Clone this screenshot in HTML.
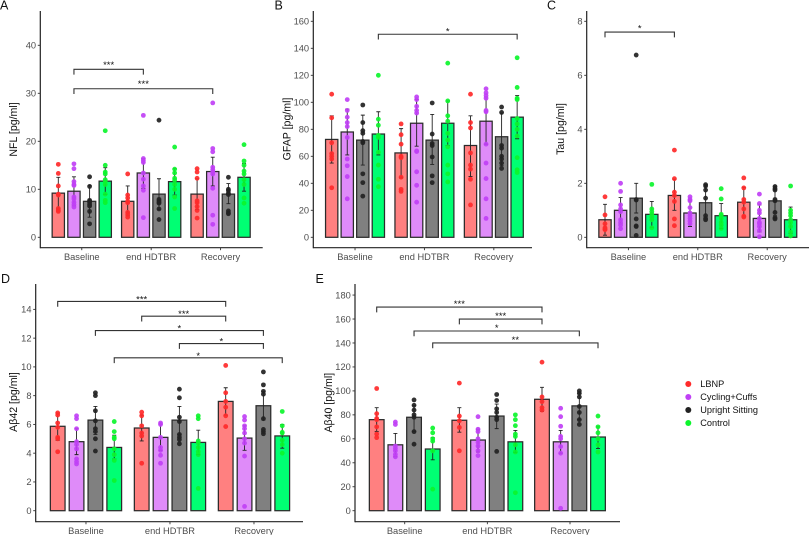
<!DOCTYPE html>
<html lang="en">
<head>
<meta charset="utf-8">
<title>Biomarker bar charts</title>
<style>
html,body{margin:0;padding:0;background:#fff;width:809px;height:535px;overflow:hidden}
svg{display:block;font-family:"Liberation Sans",Arial,sans-serif;filter:blur(0.35px)}
</style>
</head>
<body>
<svg id="figure" width="809" height="535" viewBox="0 0 809 535" xmlns="http://www.w3.org/2000/svg"></svg>
<script>
const groupLabels = ['Baseline', 'end HDTBR', 'Recovery'];
const seriesNames = ['LBNP', 'Cycling+Cuffs', 'Upright Sitting', 'Control'];
const barColors = ['#ff8080', '#df8bf9', '#808080', '#00ff73'];
const pointColors = ['#ff2a2a', '#c040f5', '#222222', '#0cf52c'];

const nflTicks = [0, 10, 20, 30, 40];
const nflMeans = [9.2, 9.6, 7.5, 11.7, 7.5, 13.4, 9, 11.6, 9, 13.7, 9, 12.5];
const nflLow = [5.9, 6.6, 4.2, 8.9, 4.5, 10.2, 5.8, 8.8, 5.8, 10.7, 7, 9.6];
const nflHigh = [12.5, 12.6, 10.8, 14.5, 10.7, 16.4, 12.2, 14.3, 12.2, 16.7, 11.2, 15.4];
const nflPoints = [
  [15.2, 13.3, 10.7, 9, 8.8, 6, 5.6, 5.4],
  [15.3, 14.3, 11.6, 11, 10.8, 8.4, 8, 7.3, 6.8, 6.3],
  [12.6, 10.6, 7.7, 7.5, 7.2, 6.8, 6.5, 5.4, 2.8],
  [22.2, 15, 13.6, 13.2, 12, 11.6, 11, 9, 7.7, 7.2],
  [13.2, 8.8, 8.2, 7.5, 7.2, 5.2, 4.8, 4.2],
  [25.4, 16.4, 16, 15.6, 13.4, 12.1, 10.7, 9.8, 4.1],
  [24.4, 7.9, 7.6, 7.3, 7.1, 5.9, 3.7],
  [18.8, 14.2, 13.4, 12.3, 11.9, 11, 10, 8.4, 6],
  [14.3, 13.6, 12.3, 7.6, 7.2, 6.4, 5.6, 4],
  [28, 18.5, 17.8, 14.6, 14.1, 13.7, 13.2, 10.2, 4.6, 2.7],
  [12.5, 10, 9.7, 9.2, 8.9, 5.5, 5.1, 4.9],
  [19.3, 15.9, 15, 13.8, 13.2, 12, 11, 8.2, 7.1]
];
const nflBrackets = [
  [0, 1, 1, 1, 35, '***'],
  [0, 1, 2, 1, 30.95, '***']
];

const gfapTicks = [0, 20, 40, 60, 80, 100, 120, 140, 160];
const gfapMeans = [72.5, 78, 72, 76.5, 62.5, 84.5, 72, 84.5, 68, 86, 74.5, 89];
const gfapLow = [55, 61, 53.5, 61, 44, 67.5, 54, 68, 45, 69, 53, 73];
const gfapHigh = [90, 95, 90.5, 93, 80.5, 102, 91, 101, 90, 104, 92, 105];
const gfapPoints = [
  [106, 88.5, 70, 62, 60, 58, 36.7],
  [102, 94, 89, 85, 82, 74, 58, 53, 45, 28.5],
  [98, 85, 79, 77, 71, 70, 47, 40.5, 30.5],
  [120, 87.5, 83, 75.5, 74, 63, 53.5, 43, 37.5],
  [84, 76, 69, 60, 59, 44.5, 35.5, 34],
  [104, 102, 97, 94, 92, 64, 63.5, 48.5, 38.5, 26],
  [99.5, 76.5, 69.5, 68, 59.5, 45.5, 40.5],
  [129, 101, 90, 86, 77, 72, 67, 53.5, 47, 41],
  [106, 85, 81, 62.5, 53.5, 50.5, 43, 24],
  [110, 107, 105, 103, 94, 93, 69, 55, 43.5, 28.5, 14],
  [96.5, 92.5, 68, 66, 60, 58, 55, 51],
  [133, 111, 103, 102, 88, 84, 80, 75, 59, 50, 48]
];
const gfapBrackets = [
  [0, 3, 2, 3, 150.4, '*']
];

const tauTicks = [0, 2, 4, 6, 8];
const tauMeans = [0.65, 1, 1.45, 0.85, 1.55, 0.9, 1.28, 0.8, 1.3, 0.7, 1.35, 0.65];
const tauLow = [0.08, 0.5, 0.9, 0.37, 1, 0.4, 0.65, 0.33, 0.75, 0.2, 0.8, 0.15];
const tauHigh = [1.22, 1.47, 2, 1.33, 2.15, 1.4, 1.95, 1.25, 1.85, 1.2, 1.9, 1.12];
const tauPoints = [
  [1.5, 0.83, 0.5, 0.35, 0.3, 0.28],
  [2, 1.7, 1.2, 1.05, 0.95, 0.65, 0.55, 0.45, 0.32],
  [6.75, 1.4, 1.38, 0.68, 0.42, 0.4, 0.07],
  [1.96, 1.05, 0.95, 0.85, 0.75, 0.65, 0.35],
  [3.23, 2.17, 1.67, 1.55, 1.33, 0.68, 0.43],
  [1.5, 1.4, 1.35, 1.1, 0.9, 0.8, 0.7, 0.6, 0.5],
  [1.95, 1.9, 1.75, 1.45, 0.8, 0.7, 0.65],
  [1.8, 1.42, 0.85, 0.8, 0.7, 0.55, 0.45, 0.33],
  [2.2, 1.83, 1.4, 1.3, 1.05, 0.78, 0.75],
  [1.6, 1.25, 1, 0.9, 0.7, 0.55, 0.5, 0.4, 0.25, 0.02],
  [1.88, 1.8, 1.75, 1.4, 1.35, 0.92, 0.72, 0.68],
  [1.9, 1, 0.9, 0.8, 0.65, 0.55, 0.4, 0.2, 0.05]
];
const tauBrackets = [
  [0, 0, 1, 0, 7.6, '*']
];

const ab42Ticks = [0, 2, 4, 6, 8, 10, 12, 14];
const ab42Means = [5.87, 4.8, 6.3, 4.4, 5.75, 5.1, 6.3, 4.75, 7.6, 5.05, 7.3, 5.2];
const ab42Low = [4.9, 3.9, 5.3, 3.6, 4.85, 4.2, 5.3, 3.9, 6.65, 4.2, 6.3, 4.35];
const ab42High = [6.8, 5.7, 7.25, 5.25, 6.65, 6, 7.25, 5.6, 8.55, 5.9, 8.3, 6];
const ab42Points = [
  [6.8, 6.65, 6.1, 5.8, 5.1, 5, 4.1],
  [6.6, 6.4, 5.7, 4.8, 4.6, 4.3, 3.6, 3.4, 3.25],
  [8.2, 8, 6.95, 6.25, 5.7, 5.5, 5, 4.15],
  [6.2, 5.5, 5.1, 5, 4.3, 3.9, 3.5, 2.1],
  [6.85, 6.6, 5.9, 5.4, 5.2, 3.3],
  [6.1, 6, 5.1, 4.4, 4.2, 3.85, 3.3],
  [8.45, 7.85, 6.5, 6.2, 5.3, 5.1, 4.95, 4.65],
  [6.6, 6.4, 4.85, 4.7, 4.4, 4.1, 3.9, 1.55],
  [10.1, 8.2, 7.6, 7.2, 6.6, 5.85],
  [6.55, 6.3, 5.9, 5.7, 5.4, 5, 4.7, 3.8, 0.3],
  [9.65, 8.75, 8.3, 8.1, 6.4, 5.65, 5.5, 5.35],
  [6.9, 5.9, 5.45, 5.4, 4.9, 4.6, 4]
];
const ab42Brackets = [
  [0, 0, 2, 0, 14.55, '***'],
  [1, 0, 2, 0, 13.53, '***'],
  [0, 2, 2, 2, 12.53, '*'],
  [1, 2, 2, 2, 11.62, '*'],
  [0, 3, 2, 3, 10.63, '*']
];

const ab40Ticks = [0, 20, 40, 60, 80, 100, 120, 140, 160, 180];
const ab40Means = [76, 55, 78, 51.5, 75.5, 59, 79, 57.5, 93, 57.5, 87.5, 61.5];
const ab40Low = [66, 45, 66, 42.5, 65.5, 49, 68.5, 48.5, 83, 48, 76, 52];
const ab40High = [86, 64.5, 88, 61, 86, 68, 89, 67, 103, 67, 98, 70];
const ab40Points = [
  [102, 81, 77, 76, 70, 64, 61],
  [74, 72, 54, 52, 50, 47, 45],
  [92.5, 88, 84, 80, 78, 66, 55.5],
  [69, 65, 60, 58, 50, 18],
  [106.5, 79, 75, 69.5, 50],
  [78.5, 68, 66, 60, 57, 54, 50, 46],
  [97, 92, 85, 82, 78, 76, 49.5],
  [80, 76, 71, 64, 62, 55, 49, 15],
  [124, 95, 91, 86, 84],
  [85.5, 78.5, 70.5, 62, 60, 53.5, 48, 2],
  [100, 98, 95, 87, 82, 76, 72],
  [79, 70, 65, 60, 55, 49]
];
const ab40Brackets = [
  [0, 0, 2, 0, 170, '***'],
  [1, 0, 2, 0, 160, '***'],
  [0, 2, 2, 2, 150, '*'],
  [0, 3, 2, 3, 140, '**']
];

const NS = 'http://www.w3.org/2000/svg';
const figure = document.getElementById('figure');

function make(parent, tag, attrs, text) {
  const el = document.createElementNS(NS, tag);
  for (const k in attrs) el.setAttribute(k, attrs[k]);
  if (text !== undefined) el.textContent = text;
  parent.appendChild(el);
  return el;
}

function drawPanel(p) {
  const yScale = v => p.y0 - v * p.pxPerUnit;
  const xScale = (g, s) => p.xStart + g * p.groupStep + s * p.barStep;

  const panel = make(figure, 'g', {});
  
  

  const letter = make(panel, 'text', {x: p.letterX, y: p.letterY, 'font-size': 12.5, fill: '#111'}, p.letter);
  
  

  p.means.forEach((m, i) => {
    const g = Math.floor(i / 4), s = i % 4, cx = xScale(g, s);
    const bar = make(panel, 'rect', {
      x: cx - p.barWidth / 2, y: yScale(m), width: p.barWidth, height: p.y0 - yScale(m),
      fill: barColors[s], stroke: '#2b2b2b', 'stroke-width': 1.25
    });
    
    
  });

  p.means.forEach((m, i) => {
    const g = Math.floor(i / 4), s = i % 4, cx = xScale(g, s);
    const err = make(panel, 'path', {
      d: 'M' + (cx - 2) + ' ' + yScale(p.high[i]) + 'H' + (cx + 2) +
         'M' + cx + ' ' + yScale(p.high[i]) + 'V' + yScale(p.low[i]) +
         'M' + (cx - 2) + ' ' + yScale(p.low[i]) + 'H' + (cx + 2),
      stroke: '#222', 'stroke-width': 0.9, fill: 'none'
    });
    
    
  });

  p.points.forEach((vals, i) => {
    const g = Math.floor(i / 4), s = i % 4, cx = xScale(g, s);
    vals.forEach(v => {
      const dot = make(panel, 'circle', {cx: cx, cy: yScale(v), r: 2.4, fill: pointColors[s], 'fill-opacity': 0.92});
      
      
    });
  });

  const yAxis = make(panel, 'line', {x1: p.axisX, x2: p.axisX, y1: p.axisTop, y2: p.axisBottom + 0.5, stroke: '#222', 'stroke-width': 1.2});
  
  
  const xAxis = make(panel, 'line', {x1: p.axisX, x2: p.axisRight, y1: p.axisBottom, y2: p.axisBottom, stroke: '#222', 'stroke-width': 1.2});
  
  

  p.ticks.forEach(t => {
    const tick = make(panel, 'line', {x1: p.axisX - 2.5, x2: p.axisX, y1: yScale(t), y2: yScale(t), stroke: '#333', 'stroke-width': 0.9});
    
    
    const label = make(panel, 'text', {x: p.axisX - 4.2, y: yScale(t) + 3.3, 'font-size': 9.3, fill: '#4d4d4d', 'text-anchor': 'end'}, t);
    
    
  });

  groupLabels.forEach((name, g) => {
    const cx = (xScale(g, 0) + xScale(g, 3)) / 2;
    const tick = make(panel, 'line', {x1: cx, x2: cx, y1: p.axisBottom, y2: p.axisBottom + 2.5, stroke: '#333', 'stroke-width': 0.9});
    
    
    const label = make(panel, 'text', {x: cx, y: p.axisBottom + 12.2, 'font-size': 9.3, fill: '#4d4d4d', 'text-anchor': 'middle'}, name);
    
    
  });

  const title = make(panel, 'text', {
    transform: 'translate(' + p.titleX + ' ' + p.titleY + ') rotate(-90)',
    'font-size': 10.6, fill: '#111', 'text-anchor': 'middle'
  }, p.title);
  
  

  p.brackets.forEach(b => {
    const x1 = xScale(b[0], b[1]), x2 = xScale(b[2], b[3]), y = yScale(b[4]);
    const path = make(panel, 'path', {
      d: 'M' + x1 + ' ' + (y + 5.3) + 'V' + y + 'H' + x2 + 'V' + (y + 5.3),
      fill: 'none', stroke: '#333', 'stroke-width': 1.1
    });
    
    
    const stars = make(panel, 'text', {x: (x1 + x2) / 2, y: y - p.starGap + 5.5, 'font-size': 9.5, fill: '#111', 'text-anchor': 'middle'}, b[5]);
    
    
  });
}

drawPanel({key: 'nfl', letter: 'A', letterX: 0, letterY: 9.5, title: 'NFL [pg/ml]', titleX: 17, titleY: 129.5,
  ticks: nflTicks, means: nflMeans, low: nflLow, high: nflHigh, points: nflPoints, brackets: nflBrackets,
  y0: 237.3, pxPerUnit: 4.8, xStart: 58.3, barStep: 15.65, groupStep: 69.4, barWidth: 12.3,
  axisX: 40.3, axisTop: 11, axisBottom: 247.7, axisRight: 262.7, starGap: 7});

drawPanel({key: 'gfap', letter: 'B', letterX: 274.5, letterY: 9.5, title: 'GFAP [pg/ml]', titleX: 290.5, titleY: 129,
  ticks: gfapTicks, means: gfapMeans, low: gfapLow, high: gfapHigh, points: gfapPoints, brackets: gfapBrackets,
  y0: 237.3, pxPerUnit: 1.35, xStart: 331.7, barStep: 15.55, groupStep: 69.4, barWidth: 12.3,
  axisX: 313.3, axisTop: 11, axisBottom: 247.7, axisRight: 532, starGap: 5.3});

drawPanel({key: 'tau', letter: 'C', letterX: 547, letterY: 9.5, title: 'Tau [pg/ml]', titleX: 564, titleY: 129,
  ticks: tauTicks, means: tauMeans, low: tauLow, high: tauHigh, points: tauPoints, brackets: tauBrackets,
  y0: 237.3, pxPerUnit: 27, xStart: 605, barStep: 15.6, groupStep: 69.4, barWidth: 12.3,
  axisX: 586.7, axisTop: 11, axisBottom: 247.7, axisRight: 809, starGap: 6.3});

drawPanel({key: 'ab42', letter: 'D', letterX: 1, letterY: 283, title: 'Aβ42 [pg/ml]', titleX: 17, titleY: 402,
  ticks: ab42Ticks, means: ab42Means, low: ab42Low, high: ab42High, points: ab42Points, brackets: ab42Brackets,
  y0: 510.7, pxPerUnit: 14.38, xStart: 57.7, barStep: 18.85, groupStep: 84, barWidth: 14.7,
  axisX: 35.7, axisTop: 284, axisBottom: 521.7, axisRight: 303, starGap: 4.5});

drawPanel({key: 'ab40', letter: 'E', letterX: 315.5, letterY: 283, title: 'Aβ40 [pg/ml]', titleX: 332, titleY: 402.7,
  ticks: ab40Ticks, means: ab40Means, low: ab40Low, high: ab40High, points: ab40Points, brackets: ab40Brackets,
  y0: 510.7, pxPerUnit: 1.198, xStart: 376.7, barStep: 18.67, groupStep: 82.65, barWidth: 14.7,
  axisX: 355, axisTop: 284, axisBottom: 521.7, axisRight: 620, starGap: 5.7});

const legend = make(figure, 'g', {});


seriesNames.forEach((name, i) => {
  const dot = make(legend, 'circle', {cx: 688.3, cy: 384 + i * 13, r: 3, fill: pointColors[i]});
  
  
  const text = make(legend, 'text', {x: 700.3, y: 387.2 + i * 13, 'font-size': 9.2, fill: '#111'}, name);
  
  
});
</script>
</body>
</html>
